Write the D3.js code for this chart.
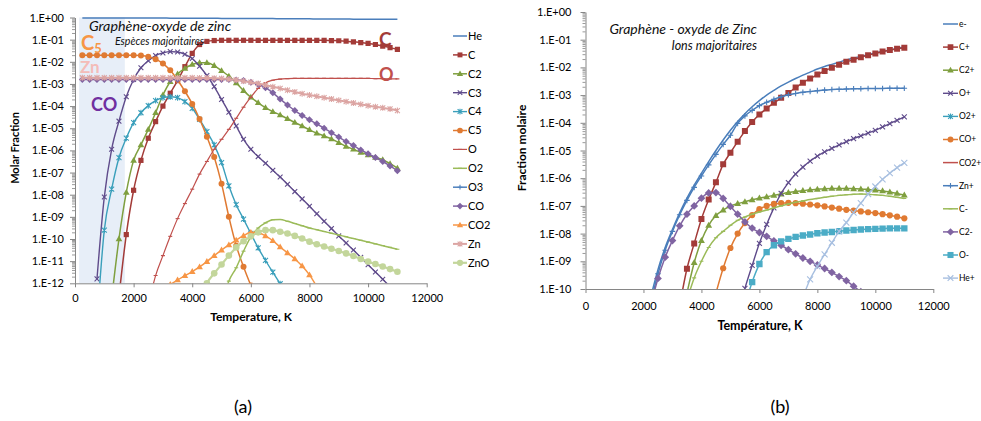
<!DOCTYPE html>
<html><head><meta charset="utf-8">
<script src="https://cdn.jsdelivr.net/npm/d3@7"></script>
<style>
body{margin:0;background:#fff;}
svg{display:block;}
</style></head><body>
<svg id="c" width="981" height="421"></svg>
<script>
const n = null;
// Temperature grid (K) shared by both panels
const temperatures = [250,500,750,1000, 1250,1500,1750,2000, 2250,2500,2750,3000, 3250,3500,3750,4000,
  4250,4500,4750,5000, 5250,5500,5750,6000, 6250,6500,6750,7000, 7250,7500,7750,8000,
  8250,8500,8750,9000, 9250,9500,9750,10000, 10250,10500,10750,11000];

// ---- Panel (a): log10 of molar fraction ----
const speciesA = ["He","C","C2","C3","C4","C5","O","O2","O3","CO","CO2","Zn","ZnO"];
const logHe = [-0.02,-0.02,-0.02,-0.02, -0.02,-0.02,-0.02,-0.02, -0.02,-0.025,-0.025,-0.025, -0.03,-0.03,-0.03,-0.03,
  -0.035,-0.035,-0.035,-0.04, -0.04,-0.04,-0.045,-0.045, -0.05,-0.05,-0.05,-0.055, -0.055,-0.06,-0.06,-0.06,
  -0.065,-0.065,-0.07,-0.07, -0.07,-0.075,-0.075,-0.075, -0.08,-0.08,-0.08,-0.08];
const logC = [n,n,n,n, n,-12.6,-9.8,-7.8, -6.45,-5.45,-4.7,-4.0, -3.42,-2.85,-2.22,-1.62,
  -1.22,-1.08,-1.04,-1.03, -1.03,-1.03,-1.03,-1.03, -1.03,-1.03,-1.03,-1.03, -1.03,-1.03,-1.03,-1.03,
  -1.03,-1.03,-1.04,-1.05, -1.07,-1.1,-1.13,-1.17, -1.22,-1.29,-1.36,-1.44];
const logC2 = [n,n,n,n, -12.7,-10.0,-7.9,-6.45, -5.75,-5.05,-4.3,-3.5, -2.9,-2.55,-2.3,-2.12,
  -2.04,-2.04,-2.17,-2.4, -2.65,-2.95,-3.3,-3.6, -3.85,-4.07,-4.25,-4.4, -4.57,-4.74,-4.9,-5.07,
  -5.22,-5.35,-5.48,-5.65, -5.82,-5.95,-6.09,-6.2, -6.32,-6.42,-6.6,-6.8];
const logC3 = [n,n,-11.8,-8.1, -5.95,-4.68,-3.58,-2.8, -2.27,-1.95,-1.72,-1.6, -1.54,-1.56,-1.66,-1.85,
  -2.2,-2.62,-3.12,-3.7, -4.28,-4.9,-5.5,-5.95, -6.28,-6.58,-6.9,-7.2, -7.53,-7.86,-8.19,-8.52,
  -8.86,-9.2,-9.53,-9.86, -10.18,-10.5,-10.83,-11.16, -11.49,-11.82,-12.15,-12.48];
const logC4 = [n,n,-13.8,-9.6, -7.75,-6.33,-5.45,-4.75, -4.3,-3.98,-3.75,-3.62, -3.58,-3.62,-3.8,-4.1,
  -4.6,-5.15,-5.75,-6.55, -7.6,-8.45,-9.1,-9.75, -10.4,-10.97,-11.5,-12.02, -12.6,n,n,n,
  n,n,n,n, n,n,n,n, n,n,n,n];
const logC5 = [-1.7,-1.7,-1.7,-1.7, -1.7,-1.7,-1.7,-1.7, -1.72,-1.77,-1.88,-2.08, -2.38,-2.82,-3.33,-3.9,
  -4.58,-5.38,-6.3,-7.5, -9.0,-10.3,-11.25,-12.1, n,n,n,n, n,n,n,n,
  n,n,n,n, n,n,n,n, n,n,n,n];
const logO = [n,n,n,n, n,n,n,n, n,-13.0,-11.65,-10.75, -9.88,-9.08,-8.4,-7.75,
  -7.07,-6.5,-5.95,-5.5, -5.05,-4.55,-4.05,-3.6, -3.2,-2.95,-2.83,-2.78, -2.76,-2.75,-2.75,-2.75,
  -2.75,-2.75,-2.75,-2.75, -2.75,-2.75,-2.75,-2.75, -2.76,-2.76,-2.77,-2.77];
const logO2 = [n,n,n,n, n,n,n,n, n,n,n,n, n,n,n,n,
  n,n,n,-13.0, -11.9,-11.3,-10.55,-9.9, -9.5,-9.27,-9.13,-9.12, -9.2,-9.3,-9.4,-9.5,
  -9.58,-9.66,-9.74,-9.82, -9.9,-9.98,-10.06,-10.14, -10.22,-10.3,-10.38,-10.46];
const logO3 = []; // below the axis range
const logCO = [-2.8,-2.8,-2.8,-2.8, -2.8,-2.8,-2.8,-2.8, -2.8,-2.8,-2.8,-2.8, -2.8,-2.8,-2.8,-2.8,
  -2.8,-2.8,-2.8,-2.8, -2.8,-2.82,-2.85,-2.92, -3.02,-3.17,-3.4,-3.68, -3.95,-4.2,-4.42,-4.62,
  -4.8,-5.0,-5.2,-5.4, -5.6,-5.78,-5.98,-6.15, -6.32,-6.5,-6.7,-6.92];
const logCO2 = [n,n,n,n, n,n,n,n, n,n,n,-12.3, -12.05,-11.85,-11.66,-11.47,
  -11.26,-11.02,-10.75,-10.5, -10.27,-10.05,-9.85,-9.7, -9.72,-9.86,-10.08,-10.36, -10.63,-10.9,-11.22,-11.62,
  -12.15,n,n,n, n,n,n,n, n,n,n,n];
const logZn = [-2.72,-2.72,-2.72,-2.72, -2.72,-2.72,-2.72,-2.72, -2.72,-2.72,-2.72,-2.72, -2.72,-2.72,-2.72,-2.72,
  -2.73,-2.73,-2.74,-2.75, -2.78,-2.82,-2.87,-2.92, -2.98,-3.05,-3.13,-3.2, -3.28,-3.36,-3.44,-3.5,
  -3.56,-3.62,-3.68,-3.74, -3.8,-3.86,-3.92,-3.98, -4.03,-4.08,-4.13,-4.2];
const logZnO = [n,n,n,n, n,n,n,n, n,n,n,n, n,n,n,n,
  -12.8,-12.0,-11.55,-11.15, -10.75,-10.38,-10.1,-9.88, -9.7,-9.6,-9.6,-9.67, -9.75,-9.86,-9.98,-10.12,
  -10.24,-10.34,-10.44,-10.54, -10.65,-10.77,-10.9,-11.02, -11.13,-11.24,-11.36,-11.48];

// ---- Panel (b): log10 of molar fraction (ions) ----
const speciesB = ["e-","C+","C2+","O+","O2+","CO+","CO2+","Zn+","C-","C2-","O-","He+"];
const logE = [n,n,n,n, n,n,n,n, -10.3,-9.3,-8.5,-7.85, -7.25,-6.72,-6.25,-5.82,
  -5.4,-5.0,-4.62,-4.27, -3.95,-3.67,-3.42,-3.2, -3.0,-2.83,-2.67,-2.53, -2.4,-2.28,-2.17,-2.06,
  -1.97,-1.89,-1.81,-1.73, -1.66,-1.6,-1.54,-1.48, -1.42,-1.37,-1.31,-1.26];
const logCp = [n,n,n,n, n,n,n,n, n,n,n,n, -10.6,-9.27,-8.36,-7.47,
  -6.77,-6.15,-5.5,-5.08, -4.68,-4.3,-3.97,-3.7, -3.48,-3.28,-3.1,-2.92, -2.73,-2.55,-2.4,-2.26,
  -2.13,-2.01,-1.9,-1.8, -1.72,-1.63,-1.56,-1.5, -1.43,-1.37,-1.33,-1.29];
const logC2p = [n,n,n,n, n,n,n,n, n,n,n,n, n,-10.15,-9.05,-8.25,
  -7.7,-7.35,-7.15,-7.0, -6.92,-6.85,-6.78,-6.72, -6.67,-6.62,-6.57,-6.52, -6.48,-6.45,-6.42,-6.4,
  -6.38,-6.37,-6.37,-6.37, -6.38,-6.39,-6.41,-6.43, -6.46,-6.5,-6.55,-6.61];
const logOp = [n,n,n,n, n,n,n,n, n,n,n,n, n,n,n,n,
  n,n,n,n, -11.0,-9.98,-9.15,-8.35, -7.67,-7.07,-6.55,-6.16, -5.85,-5.6,-5.38,-5.2,
  -5.05,-4.92,-4.8,-4.68, -4.57,-4.47,-4.37,-4.27, -4.15,-4.03,-3.91,-3.79];
const logO2p = []; // below the axis range
const logCOp = [n,n,n,n, n,n,n,n, n,n,n,n, n,n,n,n,
  n,-10.15,-9.25,-8.52, -8.0,-7.62,-7.33,-7.12, -7.0,-6.93,-6.9,-6.89, -6.9,-6.92,-6.95,-6.98,
  -7.02,-7.06,-7.1,-7.14, -7.17,-7.2,-7.23,-7.26, -7.3,-7.34,-7.39,-7.45];
const logCO2p = []; // below the axis range
const logZnp = [n,n,n,n, n,n,n,n, -10.5,-9.45,-8.6,-7.92, -7.32,-6.8,-6.33,-5.92,
  -5.52,-5.14,-4.78,-4.45, -4.02,-3.75,-3.55,-3.38, -3.26,-3.15,-3.06,-2.99, -2.94,-2.9,-2.87,-2.84,
  -2.82,-2.8,-2.79,-2.78, -2.77,-2.77,-2.76,-2.76, -2.76,-2.75,-2.75,-2.75];
const logCm = [n,n,n,n, n,n,n,n, n,n,n,n, n,-10.4,-9.6,-9.0,
  -8.5,-8.15,-7.92,-7.7, -7.52,-7.4,-7.3,-7.22, -7.15,-7.07,-7.0,-6.93, -6.87,-6.82,-6.77,-6.73,
  -6.69,-6.65,-6.62,-6.6, -6.58,-6.57,-6.58,-6.6, -6.62,-6.65,-6.69,-6.73];
const logC2m = [n,n,n,n, n,n,n,n, -10.6,-9.62,-8.85,-8.25, -7.72,-7.3,-7.0,-6.72,
  -6.53,-6.52,-6.73,-7.02, -7.3,-7.58,-7.8,-7.96, -8.1,-8.26,-8.42,-8.58, -8.73,-8.88,-9.0,-9.13,
  -9.26,-9.4,-9.55,-9.7, -9.9,-10.1,n,n, n,n,n,n];
const logOm = [n,n,n,n, n,n,n,n, n,n,n,n, n,n,n,n,
  n,n,n,n, n,-10.6,-9.75,-9.1, -8.67,-8.42,-8.28,-8.19, -8.12,-8.07,-8.03,-7.99,
  -7.96,-7.94,-7.91,-7.89, -7.87,-7.85,-7.84,-7.83, -7.82,-7.81,-7.81,-7.81];
const logHep = [n,n,n,n, n,n,n,n, n,n,n,n, n,n,n,n,
  n,n,n,n, n,n,n,n, n,n,n,n, n,-10.3,-9.65,-9.18,
  -8.75,-8.33,-7.92,-7.6, -7.24,-6.9,-6.57,-6.3, -6.04,-5.82,-5.62,-5.45];

// Axis ticks
const xTicks = [0,2000,4000,6000,8000,10000,12000];
const yExpA = [0,-1,-2,-3,-4,-5,-6,-7,-8,-9,-10,-11,-12];
const yExpB = [0,-1,-2,-3,-4,-5,-6,-7,-8,-9,-10];

// ---- styles ----
const stylesA = {
  He:{c:"#4a7ebb",m:null,w:1.5}, C:{c:"#a33b38",m:"square",s:2.6,w:1.5}, C2:{c:"#7f9f3f",m:"triangle",s:2.9,w:1.5},
  C3:{c:"#5f4b8b",m:"x",s:2.4,w:1.4}, C4:{c:"#3a9fbb",m:"star",s:2.5,w:1.4}, C5:{c:"#e07a32",m:"circle",s:3,w:1.5},
  O:{c:"#c0504d",m:"dash",s:2,w:1.2}, O2:{c:"#9bbb59",m:"dash",s:2,w:1.5}, O3:{c:"#4f81bd",m:"plus",s:2.5,w:1.5},
  CO:{c:"#8064a2",m:"diamond",s:2.7,w:1.5}, CO2:{c:"#f79646",m:"triangle",s:2.9,w:1.5}, Zn:{c:"#dca5a3",m:"star",s:2.5,w:2},
  ZnO:{c:"#c3d69b",m:"circle",s:3.3,w:2.2}
};
const stylesB = {
  "e-":{c:"#4a7ebb",m:null,w:1.5}, "C+":{c:"#a33b38",m:"square",s:3,w:1.5}, "C2+":{c:"#7f9f3f",m:"triangle",s:3,w:1.5},
  "O+":{c:"#5f4b8b",m:"x",s:2.5,w:1.4}, "O2+":{c:"#3a9fbb",m:"star",s:2.5,w:1.4}, "CO+":{c:"#e07a32",m:"circle",s:3.1,w:1.5},
  "CO2+":{c:"#c0504d",m:null,w:1.5}, "Zn+":{c:"#4a7ebb",m:"plus",s:2.8,w:1.5}, "C-":{c:"#9bbb59",m:"dash",s:2,w:1.5},
  "C2-":{c:"#8064a2",m:"diamond",s:3,w:1.5}, "O-":{c:"#4bacc6",m:"square",s:3.2,w:1.5}, "He+":{c:"#a7bfe0",m:"x",s:3,w:1.4}
};
const dataA = [logHe,logC,logC2,logC3,logC4,logC5,logO,logO2,logO3,logCO,logCO2,logZn,logZnO];
const dataB = [logE,logCp,logC2p,logOp,logO2p,logCOp,logCO2p,logZnp,logCm,logC2m,logOm,logHep];

const FONT = "Lato, 'Open Sans', sans-serif";
const svg = d3.select("#c").attr("font-family", FONT);
const defs = svg.append("defs");

function markerPath(t, s){
  switch(t){
    case "square": return `M${-s},${-s}h${2*s}v${2*s}h${-2*s}Z`;
    case "triangle": return `M0,${-s*1.2}L${s*1.15},${s*0.8}L${-s*1.15},${s*0.8}Z`;
    case "circle": return d3.symbol(d3.symbolCircle, Math.PI*s*s)();
    case "diamond": return `M0,${-s*1.3}L${s*1.3},0L0,${s*1.3}L${-s*1.3},0Z`;
    case "x": return `M${-s},${-s}L${s},${s}M${-s},${s}L${s},${-s}`;
    case "star": return `M${-s},${-s}L${s},${s}M${-s},${s}L${s},${-s}M0,${-s*1.2}L0,${s*1.2}`;
    case "plus": return `M${-s},0L${s},0M0,${-s}L0,${s}`;
    case "dash": return `M${-s},0L${s},0`;
  }
}
const FILLED = new Set(["square","triangle","circle","diamond"]);
function marker(g, st, x, y){
  g.append("path").attr("transform",`translate(${x},${y})`).attr("d", markerPath(st.m, st.s))
    .attr("fill", FILLED.has(st.m) ? st.c : "none")
    .attr("stroke", FILLED.has(st.m) ? "none" : st.c)
    .attr("stroke-width", 1.1);
}
function fmtE(v){
  const e = Math.round(Math.log10(v));
  return "1.E" + (e >= 0 ? "+" : "-") + String(Math.abs(e)).padStart(2,"0");
}

function panel(cfg){
  const {x, y, names, data, styles, clipId, expTicks, tickFont, yPad, xPad} = cfg;
  const g = svg.append("g");
  const [x0,x1] = x.range(); const [yb,yt] = y.range();
  if (cfg.shade) g.append("rect").attr("x", x(cfg.shade[0])).attr("width", x(cfg.shade[1]) - x(cfg.shade[0]))
      .attr("y", yt).attr("height", yb - yt).attr("fill", "#e7eef8");
  // minor ticks
  const minors = [];
  expTicks.slice(0,-1).forEach(e => { for (let k=2;k<=9;k++) minors.push(k*Math.pow(10, e-1)); });
  const gm = g.append("g").attr("transform",`translate(${x0},0)`)
    .call(d3.axisLeft(y).tickValues(minors).tickSize(3).tickSizeOuter(0).tickFormat(""));
  gm.select(".domain").remove();
  gm.selectAll("line").attr("stroke","#9a9a9a");
  const gy = g.append("g").attr("transform",`translate(${x0},0)`)
    .call(d3.axisLeft(y).tickValues(expTicks.map(e=>Math.pow(10,e))).tickFormat(fmtE).tickSize(5).tickSizeOuter(0).tickPadding(yPad));
  gy.attr("font-family", FONT).attr("font-size", tickFont);
  gy.selectAll("line").attr("stroke","#868686"); gy.select(".domain").attr("stroke","#868686");
  gy.selectAll("text").attr("fill","#000");
  const gx = g.append("g").attr("transform",`translate(0,${yb})`)
    .call(d3.axisBottom(x).tickValues(xTicks).tickFormat(d3.format("d")).tickSize(4).tickSizeOuter(0).tickPadding(xPad));
  gx.attr("font-family", FONT).attr("font-size", tickFont);
  gx.selectAll("line").attr("stroke","#868686"); gx.select(".domain").attr("stroke","#868686");
  gx.selectAll("text").attr("fill","#000");

  defs.append("clipPath").attr("id", clipId).append("rect")
    .attr("x", x0).attr("y", 0).attr("width", x1 - x0 + 8).attr("height", yb);
  const plot = g.append("g").attr("clip-path", `url(#${clipId})`);
  const line = d3.line().x(d => x(d.t)).y(d => y(Math.pow(10, d.v))).curve(d3.curveMonotoneX);
  names.forEach((nm, i) => {
    const st = styles[nm];
    const pts = data[i].map((v, j) => ({t: temperatures[j], v})).filter(d => d.v != null);
    if (!pts.length) return;
    plot.append("path").attr("d", line(pts)).attr("fill","none").attr("stroke", st.c)
      .attr("stroke-width", st.w).attr("stroke-linejoin","round");
    if (st.m) pts.forEach(d => marker(plot, st, x(d.t), y(Math.pow(10, d.v))));
  });
  // legend
  const L = cfg.legend;
  names.forEach((nm, i) => {
    const st = styles[nm];
    const yy = L.y0 + i * L.dy;
    g.append("line").attr("x1", L.x).attr("x2", L.x + L.len).attr("y1", yy).attr("y2", yy)
      .attr("stroke", st.c).attr("stroke-width", st.w);
    if (st.m) marker(g, {...st, s: st.s * 0.95}, L.x + L.len/2, yy);
    g.append("text").attr("x", L.x + L.len + 1).attr("y", yy).attr("dy","0.35em")
      .attr("font-size", L.fs).attr("fill","#000").text(nm);
  });
  return g;
}

const xA = d3.scaleLinear().domain([0,12000]).range([75,426.7]);
const yA = d3.scaleLog().domain([1e-12,1]).range([283.3,17.5]);
const xB = d3.scaleLinear().domain([0,12000]).range([585.5,933.3]);
const yB = d3.scaleLog().domain([1e-10,1]).range([289,12]);

const gA = panel({x:xA, y:yA, names:speciesA, data:dataA, styles:stylesA, clipId:"clipA",
  expTicks:yExpA, tickFont:11, yPad:6, xPad:7, shade:[140,1700],
  legend:{x:453, len:14, y0:36, dy:18.9, fs:11}});
const gB = panel({x:xB, y:yB, names:speciesB, data:dataB, styles:stylesB, clipId:"clipB",
  expTicks:yExpB, tickFont:11, yPad:9, xPad:9,
  legend:{x:943, len:15, y0:24, dy:23.1, fs:8.5}});

// Titles
svg.append("text").attr("transform","translate(19,148) rotate(-90)").attr("text-anchor","middle")
  .attr("font-weight","bold").attr("font-size",11).text("Molar Fraction");
svg.append("text").attr("transform","translate(526,148) rotate(-90)").attr("text-anchor","middle")
  .attr("font-weight","bold").attr("font-size",12).text("Fraction molaire");
svg.append("text").attr("x",251).attr("y",321).attr("text-anchor","middle")
  .attr("font-weight","bold").attr("font-size",12).text("Temperature, K");
svg.append("text").attr("x",760).attr("y",330).attr("text-anchor","middle")
  .attr("font-weight","bold").attr("font-size",12.5).text("Température, K");
svg.append("text").attr("x",243).attr("y",413).attr("text-anchor","middle").attr("font-size",18).text("(a)");
svg.append("text").attr("x",780).attr("y",413).attr("text-anchor","middle").attr("font-size",18).text("(b)");

// Annotations panel (a)
svg.append("text").attr("x",89).attr("y",31).attr("font-style","italic").attr("font-size",14.3)
  .attr("fill","#111").text("Graphène-oxyde de zinc");
svg.append("text").attr("x",115).attr("y",45).attr("font-style","italic").attr("font-size",10.6)
  .attr("fill","#111").text("Espèces majoritaires");
const c5 = svg.append("text").attr("x",81).attr("y",50).attr("font-weight","bold").attr("fill","#f79646");
c5.append("tspan").attr("font-size",20).text("C");
c5.append("tspan").attr("font-size",13).attr("dy",3).text("5");
svg.append("text").attr("x",80).attr("y",73).attr("font-weight","bold").attr("font-size",17).attr("fill","#f4bcb8").text("Zn");
svg.append("text").attr("x",91).attr("y",111).attr("font-weight","bold").attr("font-size",18).attr("fill","#7030a0").text("CO");
svg.append("text").attr("x",379).attr("y",46).attr("font-weight","bold").attr("font-size",19).attr("fill","#a33b38").text("C");
svg.append("text").attr("x",379).attr("y",81).attr("font-weight","bold").attr("font-size",18).attr("fill","#c0504d").text("O");

// Annotations panel (b)
svg.append("text").attr("x",757).attr("y",34).attr("text-anchor","end").attr("font-style","italic").attr("font-size",14)
  .attr("fill","#111").text("Graphène - oxyde de Zinc");
svg.append("text").attr("x",757).attr("y",50).attr("text-anchor","end").attr("font-style","italic").attr("font-size",12.5)
  .attr("fill","#111").text("Ions majoritaires");
</script>
</body></html>
